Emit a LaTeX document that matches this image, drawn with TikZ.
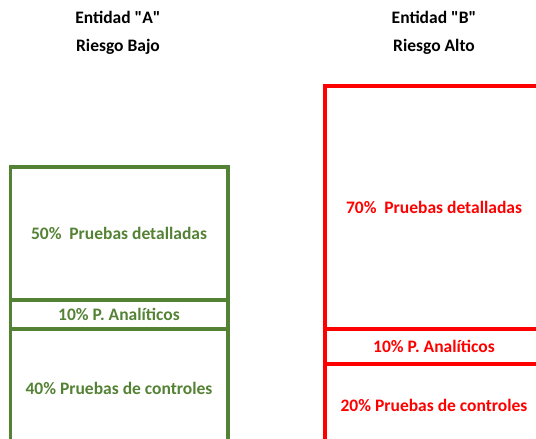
\documentclass[tikz,border=0pt]{standalone}
\usepackage{fontspec}
\setmainfont{Carlito}[Ligatures=TeXOff]
\usetikzlibrary{positioning}
\definecolor{verde}{RGB}{84,130,53}
\definecolor{rojo}{RGB}{255,0,0}

\begin{document}
\begin{tikzpicture}[x=1pt,y=-1pt,
    part/.style={draw,rectangle,line width=3.5pt,inner sep=0pt,outer sep=0pt,
                 font=\bfseries\fontsize{17.5}{20}\selectfont},
    title/.style={align=center,font=\bfseries\fontsize{17.5}{28}\selectfont}]
    \useasboundingbox (0,0) rectangle (536,439);
    % Entidad A
    \node[title]                          (tA) at (118,33)  {Entidad "A"\\Riesgo Bajo};
    \node[part,verde,text=verde,minimum width=217.5pt,minimum height=133pt] (a1) at (119,233.5) {50\%\ \ Pruebas detalladas};
    \node[part,verde,text=verde,minimum width=217.5pt,minimum height=29pt]  (a2) at (119,314.5) {10\% P. Analíticos};
    \node[part,verde,text=verde,minimum width=217.5pt,minimum height=118pt] (a3) at (119,388)   {40\% Pruebas de controles};
    % Entidad B
    \node[title]                          (tB) at (434,33)  {Entidad "B"\\Riesgo Alto};
    \node[part,rojo,text=rojo,minimum width=218pt,minimum height=243pt] (b1) at (434,207.5) {70\%\ \ Pruebas detalladas};
    \node[part,rojo,text=rojo,minimum width=218pt,minimum height=35pt]  (b2) at (434,346.5) {10\% P. Analíticos};
    \node[part,rojo,text=rojo,minimum width=218pt,minimum height=82pt]  (b3) at (434,405)   {20\% Pruebas de controles};
\end{tikzpicture}
\end{document}
